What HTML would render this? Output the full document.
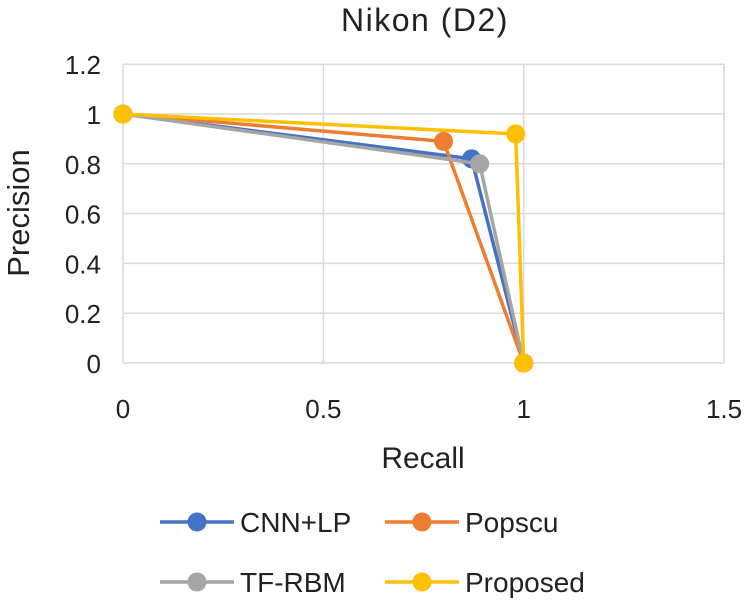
<!DOCTYPE html>
<html><head><meta charset="utf-8"><style>
body{margin:0;background:#fff;}
svg{display:block;font-family:"Liberation Sans",Arial,sans-serif;}
</style></head><body>
<svg id="chart" width="748" height="605">
<text x="425" y="31" font-size="32" letter-spacing="1.5" text-anchor="middle" fill="#222">Nikon (D2)</text>
<g id="grid"></g><g id="ticks"></g><g id="series"></g>
<text x="423" y="468" font-size="30" text-anchor="middle" fill="#222">Recall</text>
<text transform="translate(29,213) rotate(-90)" font-size="31" text-anchor="middle" fill="#222">Precision</text>
<g id="legend"></g>
</svg>
<script>
const seriesNames=["CNN+LP","Popscu","TF-RBM","Proposed"];
const colors=["#4472C4","#ED7D31","#A5A5A5","#FFC000"];
const recallCNN=[0,0.87,1];
const precisionCNN=[1,0.82,0];
const recallPop=[0,0.80,1];
const precisionPop=[1,0.89,0];
const recallTF=[0,0.89,1];
const precisionTF=[1,0.80,0];
const recallProp=[0,0.98,1];
const precisionProp=[1,0.92,0];
const xTicks=[0,0.5,1,1.5];
const xTickLabels=["0","0.5","1","1.5"];
const yTicks=[0,0.2,0.4,0.6,0.8,1,1.2];
const yTickLabels=["0","0.2","0.4","0.6","0.8","1","1.2"];
const NS="http://www.w3.org/2000/svg";
const X=v=>123+v*400.7, Y=v=>363-v*249;
function mk(t,a,p){const e=document.createElementNS(NS,t);for(const k in a)e.setAttribute(k,a[k]);p.appendChild(e);return e;}
const grid=document.getElementById('grid'),ticks=document.getElementById('ticks');
yTicks.forEach((v,i)=>{
 const l=mk('line',{x1:X(0),x2:X(1.5),y1:Y(v),y2:Y(v),stroke:'#d9d9d9','stroke-width':1.5},grid);
 
 
 const t=mk('text',{x:101,y:Y(v)+10,'font-size':26,'text-anchor':'end',fill:'#222'},ticks);
 t.textContent=yTickLabels[i];
 
 
});
xTicks.forEach((v,i)=>{
 const l=mk('line',{x1:X(v),x2:X(v),y1:Y(0),y2:Y(1.2),stroke:'#d9d9d9','stroke-width':1.5},grid);
 
 
 const t=mk('text',{x:X(v),y:418,'font-size':26,'text-anchor':'middle',fill:'#222'},ticks);
 t.textContent=xTickLabels[i];
 
 
});
const data=[[recallCNN,precisionCNN],[recallPop,precisionPop],[recallTF,precisionTF],[recallProp,precisionProp]];
const sg=document.getElementById('series');
data.forEach((d,s)=>{
 const g=mk('g',{},sg);
 
 
 const pl=mk('polyline',{points:d[0].map((r,i)=>X(r)+','+Y(d[1][i])).join(' '),fill:'none',stroke:colors[s],'stroke-width':3.5},g);
 
 
 d[0].forEach((r,i)=>{
  const c=mk('circle',{cx:X(r),cy:Y(d[1][i]),r:9.5,fill:colors[s]},g);
  
  
 });
});
const lg=document.getElementById('legend');
const pos=[[160,522],[385,522],[160,582],[385,582]];
seriesNames.forEach((n,i)=>{
 const g=mk('g',{},lg);
 
 
 const [x,y]=pos[i];
 mk('line',{x1:x,x2:x+74,y1:y,y2:y,stroke:colors[i],'stroke-width':3.5},g);
 mk('circle',{cx:x+37,cy:y,r:9.5,fill:colors[i]},g);
 const t=mk('text',{x:x+80,y:y+10,'font-size':28,fill:'#222'},g);
 t.textContent=n;
});
</script>
</body></html>
